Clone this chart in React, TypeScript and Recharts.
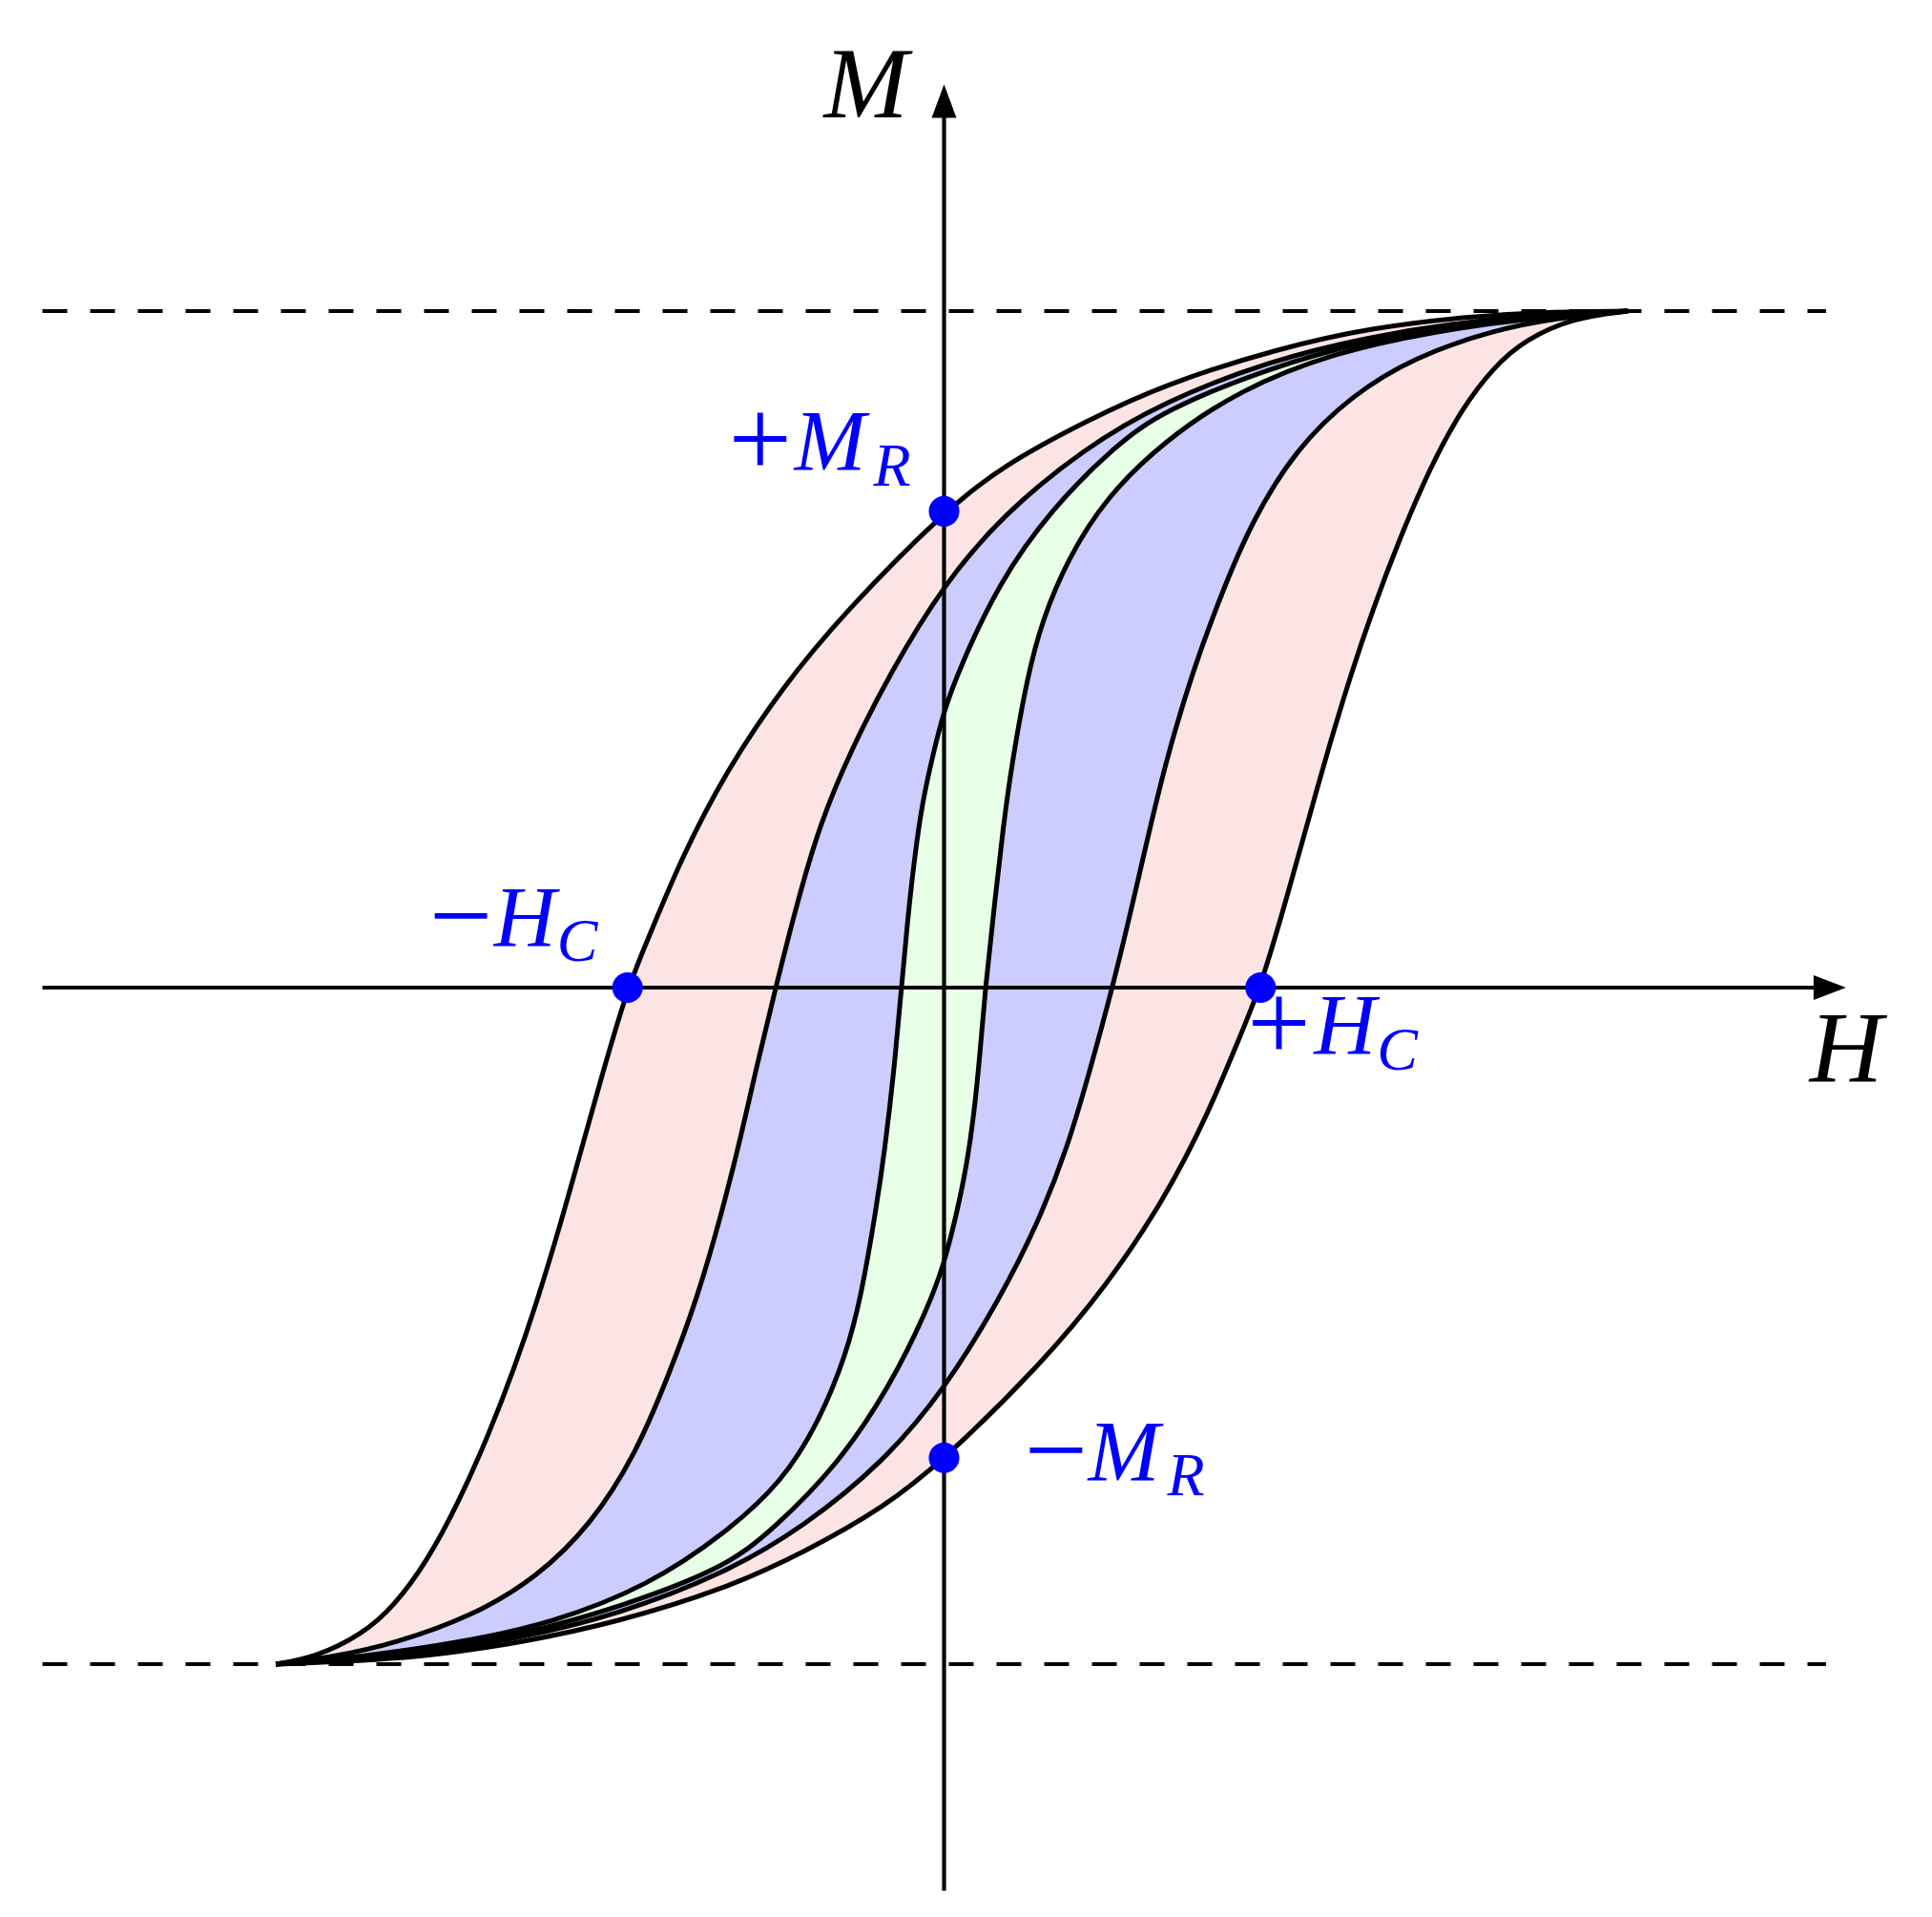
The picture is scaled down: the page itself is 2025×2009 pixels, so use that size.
import React from 'react';
import { ComposedChart, Area, Line, XAxis, YAxis, ReferenceLine, ReferenceDot, Scatter } from 'recharts';

// ---- outer loop (pink) ----
const outerUpperH = [-0.988, -0.93, -0.86, -0.813, -0.765, -0.719, -0.672, -0.634, -0.602, -0.566, -0.539, -0.507, -0.468, -0.437, -0.39, -0.324, -0.24, -0.146, 0, 0.088, 0.207, 0.324, 0.494, 0.635, 0.776, 0.889, 1.011];
const outerUpperM = [-1.0, -0.99, -0.956, -0.914, -0.849, -0.764, -0.658, -0.559, -0.465, -0.346, -0.249, -0.134, 0, 0.073, 0.188, 0.317, 0.443, 0.556, 0.704, 0.772, 0.836, 0.891, 0.945, 0.976, 0.992, 0.999, 1.0];
const outerLowerH = [-0.988, -0.906, -0.765, -0.624, -0.483, -0.324, -0.207, -0.088, 0, 0.146, 0.24, 0.324, 0.39, 0.437, 0.468, 0.507, 0.539, 0.566, 0.602, 0.634, 0.672, 0.719, 0.765, 0.813, 0.86, 0.93, 1.011];
const outerLowerM = [-1.0, -0.997, -0.989, -0.968, -0.938, -0.889, -0.835, -0.768, -0.698, -0.554, -0.441, -0.316, -0.188, -0.073, 0, 0.134, 0.249, 0.346, 0.465, 0.559, 0.66, 0.77, 0.855, 0.918, 0.958, 0.99, 1.0];

// ---- middle loop (blue) ----
const middleUpperH = [-0.988, -0.906, -0.813, -0.695, -0.602, -0.521, -0.455, -0.408, -0.366, -0.328, -0.3, -0.277, -0.249, -0.215, -0.183, -0.14, -0.081, 0, 0.088, 0.207, 0.324, 0.483, 0.624, 0.765, 0.906, 1.011];
const middleUpperM = [-1.0, -0.99, -0.97, -0.928, -0.872, -0.793, -0.688, -0.575, -0.463, -0.331, -0.219, -0.116, 0, 0.134, 0.243, 0.346, 0.463, 0.597, 0.7, 0.797, 0.866, 0.927, 0.961, 0.984, 0.996, 1.0];
const middleLowerH = [-0.988, -0.906, -0.765, -0.624, -0.483, -0.324, -0.207, -0.088, 0, 0.081, 0.14, 0.183, 0.215, 0.249, 0.277, 0.3, 0.328, 0.366, 0.408, 0.455, 0.521, 0.602, 0.695, 0.813, 0.906, 1.011];
const middleLowerM = [-1.0, -0.996, -0.984, -0.961, -0.927, -0.866, -0.797, -0.7, -0.595, -0.463, -0.346, -0.235, -0.125, 0, 0.116, 0.217, 0.335, 0.463, 0.577, 0.69, 0.797, 0.875, 0.932, 0.972, 0.99, 1.0];

// ---- inner loop (green) ----
const innerUpperH = [-0.988, -0.86, -0.719, -0.578, -0.437, -0.324, -0.239, -0.183, -0.145, -0.123, -0.101, -0.088, -0.074, -0.063, -0.054, -0.044, -0.032, -0.016, 0, 0.023, 0.08, 0.159, 0.253, 0.324, 0.483, 0.624, 0.765, 0.906, 1.011];
const innerUpperM = [-1.0, -0.989, -0.969, -0.939, -0.884, -0.807, -0.731, -0.638, -0.543, -0.459, -0.331, -0.243, -0.124, 0, 0.099, 0.19, 0.275, 0.346, 0.41, 0.472, 0.597, 0.708, 0.801, 0.853, 0.917, 0.956, 0.982, 0.994, 1.0];
const innerLowerH = [-0.988, -0.906, -0.765, -0.624, -0.483, -0.324, -0.253, -0.159, -0.08, -0.023, 0, 0.016, 0.032, 0.044, 0.053, 0.061, 0.074, 0.087, 0.101, 0.123, 0.145, 0.183, 0.239, 0.324, 0.437, 0.578, 0.719, 0.86, 1.011];
const innerLowerM = [-1.0, -0.994, -0.982, -0.956, -0.917, -0.858, -0.801, -0.708, -0.59, -0.472, -0.408, -0.345, -0.272, -0.19, -0.1, 0, 0.117, 0.235, 0.336, 0.459, 0.543, 0.634, 0.724, 0.807, 0.884, 0.939, 0.969, 0.989, 1.0];

// ---- marked points ----
const markerH = [0, -0.468, 0.468, 0];
const markerM = [0.704, 0, 0, -0.695];
const markerSign = ['+', '\u2212', '+', '\u2212'];
const markerLetter = ['M', 'H', 'H', 'M'];
const markerSub = ['R', 'C', 'C', 'R'];

// ---- axes / saturation ----
const saturationLevels = [1, -1];
const axisLabelH = 'H';
const axisLabelM = 'M';

const X_DOMAIN: [number, number] = [-1.333, 1.333];
const Y_DOMAIN: [number, number] = [-1.335, 1.335];

const BLUE = '#0000ff';
const FONT = "'Liberation Serif', 'Times New Roman', serif";
const PINK = '#fde4e4';
const LAVENDER = '#ccccff';
const MINT = '#e6ffe6';
const WHITE = '#ffffff';

const LABEL_LAYOUT = [
  { sign: -226, letter: -157, sub: -74, base: -43, subBase: -27 },
  { sign: -208, letter: -140, sub: -74, base: -43, subBase: -28 },
  { sign: -14, letter: 56, sub: 122, base: 70, subBase: 86 },
  { sign: 84, letter: 151, sub: 234, base: 24, subBase: 39 },
];

const toRows = (hs: number[], ms: number[]) => hs.map((h, i) => ({ h, m: ms[i] }));

// Branches ordered from the top-left curve down to the bottom-right one.
// Each is filled down to the lower saturation level; later fills cover earlier ones,
// leaving pink / blue / green / blue / pink bands between successive branches.
const branches = [
  { key: 'outerUpper', data: toRows(outerUpperH, outerUpperM), fill: PINK },
  { key: 'middleUpper', data: toRows(middleUpperH, middleUpperM), fill: LAVENDER },
  { key: 'innerUpper', data: toRows(innerUpperH, innerUpperM), fill: MINT },
  { key: 'innerLower', data: toRows(innerLowerH, innerLowerM), fill: LAVENDER },
  { key: 'middleLower', data: toRows(middleLowerH, middleLowerM), fill: PINK },
  { key: 'outerLower', data: toRows(outerLowerH, outerLowerM), fill: WHITE },
];

const markerData = markerH.map((h, i) => ({ h, m: markerM[i], idx: i }));

const MarkerShape = (props: any) => {
  const { cx, cy, payload } = props;
  if (cx == null || cy == null) return null;
  const i = payload.idx;
  const lay = LABEL_LAYOUT[i];
  return (
    <g>
      <circle cx={cx} cy={cy} r={16} fill={BLUE} />
      <text x={cx + lay.sign} y={cy + lay.base + 7} fontSize={118} fill={BLUE} fontFamily={FONT}>
        {markerSign[i]}
      </text>
      <text x={cx + lay.letter} y={cy + lay.base} fontSize={90} fontStyle="italic" fill={BLUE} fontFamily={FONT}>
        {markerLetter[i]}
      </text>
      <text x={cx + lay.sub} y={cy + lay.subBase} fontSize={64} fontStyle="italic" fill={BLUE} fontFamily={FONT}>
        {markerSub[i]}
      </text>
    </g>
  );
};

const ArrowRight = (props: any) => {
  const { cx, cy } = props;
  if (cx == null || cy == null) return null;
  return (
    <g>
      <polygon points={`${cx},${cy} ${cx - 34},${cy - 13} ${cx - 34},${cy + 13}`} fill="#000" />
      <text x={cx - 38} y={cy + 98} fontSize={106} fontStyle="italic" fill="#000" fontFamily={FONT}>
        {axisLabelH}
      </text>
    </g>
  );
};

const ArrowUp = (props: any) => {
  const { cx, cy } = props;
  if (cx == null || cy == null) return null;
  return (
    <g>
      <polygon points={`${cx},${cy} ${cx - 13},${cy + 35} ${cx + 13},${cy + 35}`} fill="#000" />
      <text x={cx - 126} y={cy + 34} fontSize={106} fontStyle="italic" fill="#000" fontFamily={FONT}>
        {axisLabelM}
      </text>
    </g>
  );
};

export default function App() {
  return (
    <ComposedChart
      width={2009}
      height={1993}
      margin={{ top: 80.5, right: 82.5, bottom: 19.5, left: 36.5 }}
    >
      <XAxis type="number" dataKey="h" domain={X_DOMAIN} allowDataOverflow hide />
      <YAxis type="number" dataKey="m" domain={Y_DOMAIN} allowDataOverflow hide />
      {branches.map((b) => (
        <Area
          key={`fill-${b.key}`}
          data={b.data}
          dataKey="m"
          baseValue={-1}
          type="basis"
          fill={b.fill}
          fillOpacity={1}
          stroke="none"
          shapeRendering="crispEdges"
          isAnimationActive={false}
          activeDot={false}
          dot={false}
        />
      ))}
      {saturationLevels.map((s) => (
        <ReferenceLine
          key={`sat-${s}`}
          segment={[{ x: -1.333, y: s }, { x: 1.304, y: s }]}
          stroke="#000"
          strokeWidth={4}
          strokeDasharray="26 24"
          ifOverflow="visible"
        />
      ))}
      <ReferenceLine
        segment={[{ x: -1.333, y: 0 }, { x: 1.286, y: 0 }]}
        stroke="#000"
        strokeWidth={4.2}
        ifOverflow="visible"
      />
      <ReferenceLine
        segment={[{ x: 0, y: -1.335 }, { x: 0, y: 1.287 }]}
        stroke="#000"
        strokeWidth={4.2}
        ifOverflow="visible"
      />
      <ReferenceDot x={1.3335} y={0} r={1} ifOverflow="visible" shape={ArrowRight} />
      <ReferenceDot x={0} y={1.335} r={1} ifOverflow="visible" shape={ArrowUp} />
      {branches.map((b) => (
        <Line
          key={`curve-${b.key}`}
          data={b.data}
          dataKey="m"
          type="basis"
          stroke="#000"
          strokeWidth={5}
          dot={false}
          activeDot={false}
          isAnimationActive={false}
        />
      ))}
      <Scatter data={markerData} dataKey="m" shape={MarkerShape} isAnimationActive={false} />
    </ComposedChart>
  );
}
